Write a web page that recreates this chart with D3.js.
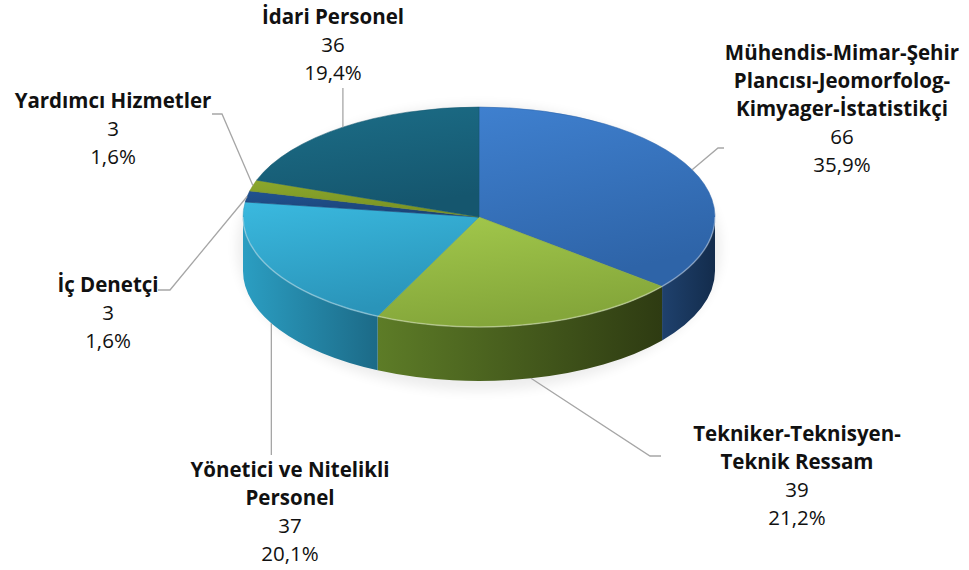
<!DOCTYPE html>
<html>
<head>
<meta charset="utf-8">
<script src="https://cdn.jsdelivr.net/npm/d3@7"></script>
<style>
  html, body { margin: 0; padding: 0; background: #fff; }
  svg text { font-family: "Open Sans", "Noto Sans", sans-serif; fill: #111; }
</style>
</head>
<body>
<div id="chart"></div>
<script>
// categories and values, clockwise from 12 o'clock
const categories = [
  ['Mühendis-Mimar-Şehir', 'Plancısı-Jeomorfolog-', 'Kimyager-İstatistikçi'],
  ['Tekniker-Teknisyen-', 'Teknik Ressam'],
  ['Yönetici ve Nitelikli', 'Personel'],
  ['İç Denetçi'],
  ['Yardımcı Hizmetler'],
  ['İdari Personel']
];
const values = [66, 39, 37, 3, 3, 36];
const percentLabels = ['35,9%', '21,2%', '20,1%', '1,6%', '1,6%', '19,4%'];

const topColors = [['#3f80cf', '#2e64a8'], ['#a3c94c', '#84a63a'], ['#3ab9df', '#2a94b9'],
                   ['#21528f', '#1b4478'], ['#8ba72c', '#7a9324'], ['#1c6e88', '#15566e']];
const wallColors = [['#1f416d', '#132c4c'], ['#5d7c27', '#2e3b12'], ['#2b9ec2', '#1c6a87'],
                    ['#1a3f6c', '#12304f'], ['#6a7f20', '#4f5f17'], ['#145466', '#0f4150']];

const width = 969, height = 570;
const cx = 479, cy = 217, rx = 236, ry = 110, depth = 54;

// label layout: centre x, first line centre y, leader bend points
const labelLayout = [
  { x: 842, y: 53, bend: [[718, 148], [724, 148]] },
  { x: 797, y: 434, bend: [[650, 456], [661, 456]] },
  { x: 290, y: 470, bend: [['v', 455]] },
  { x: 108, y: 285, bend: [[170, 290], [158, 290]] },
  { x: 113, y: 101, bend: [[222, 114], [212, 114]] },
  { x: 333, y: 17, bend: [['v', 88]] }
];

const svg = d3.select('#chart').append('svg')
  .attr('width', width)
  .attr('height', height);

const defs = svg.append('defs');

const pt = (a, dy = 0) => [cx + rx * Math.sin(a), cy - ry * Math.cos(a) + dy];

const arcs = d3.pie().sort(null).startAngle(0).endAngle(2 * Math.PI)(values);

// soft shadow under the pie
const blur = defs.append('filter').attr('id', 'soft')
  .attr('x', '-20%').attr('y', '-20%').attr('width', '140%').attr('height', '140%');
blur.append('feGaussianBlur').attr('stdDeviation', 6);

svg.append('ellipse')
  .attr('cx', cx).attr('cy', cy + depth / 2 + 4)
  .attr('rx', rx + 6).attr('ry', ry + depth / 2 + 6)
  .attr('fill', '#000').attr('opacity', 0.07)
  .attr('filter', 'url(#soft)');

arcs.forEach((d, i) => {
  const g = defs.append('linearGradient').attr('id', 'top' + i)
    .attr('x1', 0).attr('y1', 0).attr('x2', 0.3).attr('y2', 1);
  g.append('stop').attr('offset', 0).attr('stop-color', topColors[i][0]);
  g.append('stop').attr('offset', 1).attr('stop-color', topColors[i][1]);
});

// side walls (front half only)
const walls = svg.append('g').attr('class', 'walls');
arcs.forEach((d, i) => {
  const a0 = Math.max(d.startAngle, Math.PI / 2);
  const a1 = Math.min(d.endAngle, 3 * Math.PI / 2);
  if (a1 <= a0) return;
  const p0 = pt(a0), p1 = pt(a1);
  const large = a1 - a0 > Math.PI ? 1 : 0;
  const g = defs.append('linearGradient').attr('id', 'wall' + i)
    .attr('gradientUnits', 'userSpaceOnUse')
    .attr('x1', Math.min(p0[0], p1[0])).attr('y1', 0)
    .attr('x2', Math.max(p0[0], p1[0])).attr('y2', 0);
  g.append('stop').attr('offset', 0).attr('stop-color', wallColors[i][0]);
  g.append('stop').attr('offset', 1).attr('stop-color', wallColors[i][1]);
  const path = `M${p0[0]},${p0[1]} A${rx},${ry} 0 ${large} 1 ${p1[0]},${p1[1]}` +
    ` L${p1[0]},${p1[1] + depth} A${rx},${ry} 0 ${large} 0 ${p0[0]},${p0[1] + depth} Z`;
  walls.append('path')
    .attr('d', path)
    .attr('fill', `url(#wall${i})`);
});

// top faces
const tops = svg.append('g').attr('class', 'tops');
arcs.forEach((d, i) => {
  const p0 = pt(d.startAngle), p1 = pt(d.endAngle);
  const large = d.endAngle - d.startAngle > Math.PI ? 1 : 0;
  tops.append('path')
    .attr('d', `M${cx},${cy} L${p0[0]},${p0[1]} A${rx},${ry} 0 ${large} 1 ${p1[0]},${p1[1]} Z`)
    .attr('fill', `url(#top${i})`)
    .attr('stroke', topColors[i][1])
    .attr('stroke-width', 0.5);
});

// light rim on the front edge
const rf = pt(Math.PI / 2), rb = pt(3 * Math.PI / 2);
svg.append('path')
  .attr('d', `M${rf[0]},${rf[1]} A${rx},${ry} 0 0 1 ${rb[0]},${rb[1]}`)
  .attr('fill', 'none')
  .attr('stroke', '#fff')
  .attr('stroke-opacity', 0.35)
  .attr('stroke-width', 1.5);

// leader lines and labels
const labels = svg.append('g').attr('class', 'labels');
arcs.forEach((d, i) => {
  const mid = (d.startAngle + d.endAngle) / 2;
  const front = Math.cos(mid) < -0.3;
  const start = pt(mid, front ? depth : 0);
  const lay = labelLayout[i];
  const pts = [start].concat(lay.bend.map(b => b[0] === 'v' ? [start[0], b[1]] : b));
  labels.append('path')
    .attr('d', d3.line()(pts))
    .attr('fill', 'none')
    .attr('stroke', '#a6a6a6')
    .attr('stroke-width', 1.3);

  const lines = categories[i].map(t => ({ t, bold: true }))
    .concat([{ t: String(values[i]), bold: false }, { t: percentLabels[i], bold: false }]);
  labels.selectAll(null)
    .data(lines)
    .enter()
    .append('text')
    .attr('x', lay.x)
    .attr('y', (l, k) => lay.y + k * 28 + 7)
    .attr('text-anchor', 'middle')
    .attr('font-size', 20.5)
    .attr('font-weight', l => l.bold ? 700 : 400)
    .text(l => l.t);
});
</script>
</body>
</html>
